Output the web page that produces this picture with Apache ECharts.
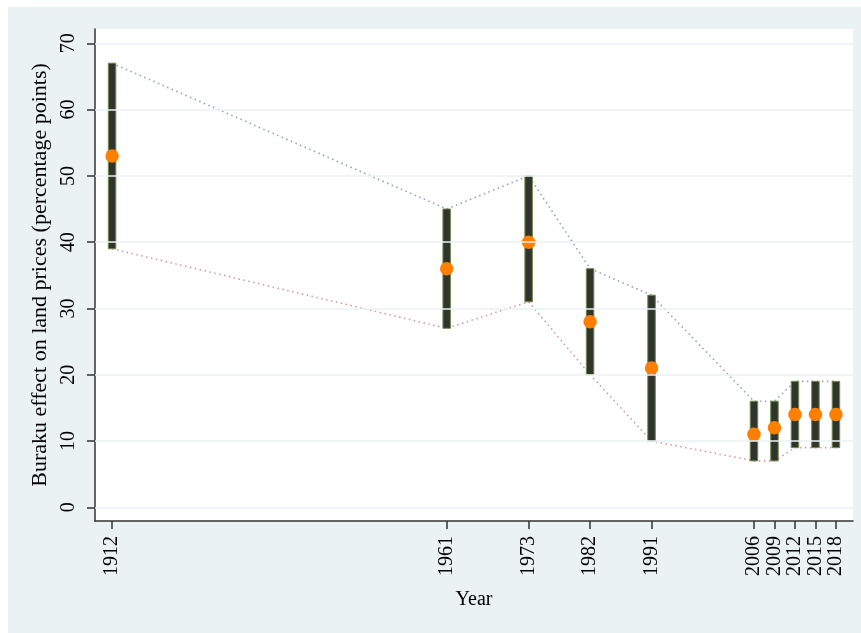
<!DOCTYPE html>
<html>
<head>
<meta charset="utf-8">
<script src="https://cdn.jsdelivr.net/npm/echarts@6/dist/echarts.min.js"></script>
<style>
  html, body { margin: 0; padding: 0; background: #ffffff; }
  #chart { position: absolute; left: 8px; top: 7px; width: 853px; height: 626px; }
</style>
</head>
<body>
<div id="chart"></div>
<script>
// Data
const years = [1912, 1961, 1973, 1982, 1991, 2006, 2009, 2012, 2015, 2018];
const estimates = [53, 36, 40, 28, 21, 11, 12, 14, 14, 14];
const upperCI = [67, 45, 50, 36, 32, 16, 16, 19, 19, 19];
const lowerCI = [39, 27, 31, 20, 10, 7, 7, 9, 9, 9];
const yTicks = [0, 10, 20, 30, 40, 50, 60, 70];

const chart = echarts.init(document.getElementById('chart'), null, { renderer: 'canvas' });
const font = '"Liberation Serif", "DejaVu Serif", serif';

const rangeData = years.map((y, i) => [y, lowerCI[i], upperCI[i]]);

const option = {
  backgroundColor: '#eaf2f3',
  animation: false,
  textStyle: { fontFamily: font },
  grid: {
    left: 87, top: 22, right: 8, bottom: 112,
    show: true, backgroundColor: '#ffffff', borderWidth: 0
  },
  xAxis: {
    type: 'value',
    min: 1909.5, max: 2020.5,
    name: 'Year',
    nameLocation: 'middle',
    nameGap: 69,
    nameTextStyle: { fontFamily: font, fontSize: 20, color: '#000' },
    axisLine: { show: true, onZero: false, lineStyle: { color: '#333', width: 1.5 } },
    axisTick: { show: true, length: 8, customValues: years, lineStyle: { color: '#333', width: 1.5 } },
    axisLabel: {
      customValues: years, rotate: 90, margin: 15, interval: 0,
      hideOverlap: false, showMinLabel: true, showMaxLabel: true,
      fontFamily: font, fontSize: 20, color: '#000',
      formatter: v => String(Math.round(v))
    },
    splitLine: { show: false }
  },
  yAxis: {
    type: 'value',
    min: -2.07, max: 72.16,
    name: 'Buraku effect on land prices (percentage points)',
    nameLocation: 'middle',
    nameRotate: 90,
    nameGap: 31,
    nameTextStyle: { fontFamily: font, fontSize: 22, color: '#000' },
    axisLine: { show: true, onZero: false, lineStyle: { color: '#333', width: 1.5 } },
    axisTick: { show: true, length: 8, customValues: yTicks, lineStyle: { color: '#333', width: 1.5 } },
    axisLabel: {
      customValues: yTicks, rotate: 90, margin: 16,
      hideOverlap: false, showMinLabel: true, showMaxLabel: true,
      fontFamily: font, fontSize: 20, color: '#000',
      formatter: v => String(Math.round(v))
    },
    splitLine: { show: false }
  },
  series: [
    {
      name: 'grid',
      type: 'line',
      data: [],
      silent: true,
      z: 1,
      markLine: {
        silent: true,
        symbol: 'none',
        label: { show: false },
        lineStyle: { color: '#eaf2f3', width: 1.6, type: 'solid' },
        data: yTicks.map(v => ({ yAxis: v }))
      }
    },
    {
      name: 'upper',
      type: 'line',
      data: years.map((y, i) => [y, upperCI[i]]),
      showSymbol: false,
      symbol: 'none',
      z: 2,
      lineStyle: { color: '#8ea5bd', width: 1.6, type: [1.5, 3.5] }
    },
    {
      name: 'lower',
      type: 'line',
      data: years.map((y, i) => [y, lowerCI[i]]),
      showSymbol: false,
      symbol: 'none',
      z: 2,
      lineStyle: { color: '#d39aa3', width: 1.6, type: [1.5, 3.5] }
    },
    {
      name: 'range',
      type: 'custom',
      z: 3,
      data: rangeData,
      renderItem: function (params, api) {
        const x = api.value(0);
        const lo = api.coord([x, api.value(1)]);
        const hi = api.coord([x, api.value(2)]);
        const w = 7.5;
        return {
          type: 'rect',
          shape: { x: lo[0] - w / 2, y: hi[1], width: w, height: lo[1] - hi[1] },
          style: { fill: '#30342c', stroke: '#6f8a4e', lineWidth: 1 }
        };
      }
    },
    {
      name: 'estimate',
      type: 'scatter',
      z: 4,
      data: years.map((y, i) => [y, estimates[i]]),
      symbol: 'circle',
      symbolSize: 13.5,
      itemStyle: { color: '#ff8000', opacity: 1 }
    }
  ]
};

chart.setOption(option);
</script>
</body>
</html>
